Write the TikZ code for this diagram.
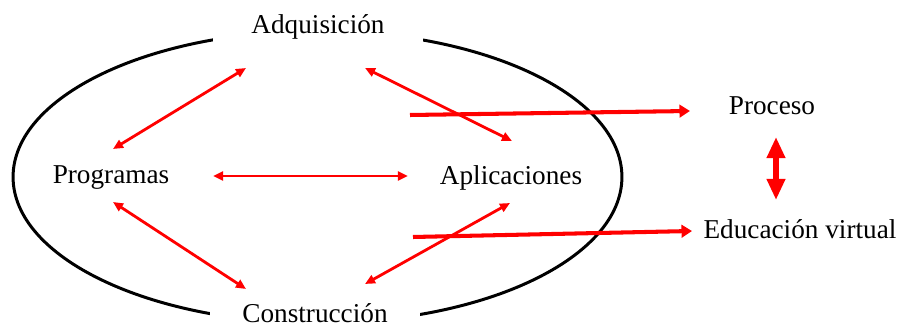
\documentclass[tikz,border=0pt]{standalone}
\usepackage{fontspec}
\setmainfont{Liberation Serif}
\usetikzlibrary{
  arrows.meta,
  calc,
}
\definecolor{cR}{HTML}{FF0000}

\tikzset{
  lbl/.style={font=\fontsize{15.5}{18}\selectfont, inner sep=0pt},
  gapbox/.style={lbl, fill=white, minimum width=4.2cm, minimum height=0.7cm},
  link/.style={cR, line width=1.6pt, {Triangle[length=5.7pt,width=5pt]}-{Triangle[length=5.7pt,width=5pt]}},
  feed/.style={cR, line width=2.3pt, -{Triangle[length=6pt,width=7.2pt]}},
  swap/.style={cR, line width=3.4pt, {Triangle[length=12pt,width=10pt]}-{Triangle[length=12pt,width=10pt]}},
}

\begin{document}
\begin{tikzpicture}[x=0.02cm,y=-0.02cm]
  \useasboundingbox (0,0) rectangle (897,327);

  \draw[line width=1.7pt] (317.5,177) ellipse (6.09cm and 2.92cm);

  \node[gapbox] (adq) at (318,27) {Adquisición};
  \node[gapbox] (cons) at (315,313) {Construcción};
  \node[lbl] (prog) at (111,178) {Programas};
  \node[lbl] (apl) at (511,178) {Aplicaciones};
  \node[lbl] (proc) at (772,106) {Proceso};
  \node[lbl] (edu) at (800,229) {Educación virtual};

  \coordinate (s1) at (410,115);
  \coordinate (s2) at (413,237);

  \foreach \a/\ax/\ay/\b/\bx/\by in {adq/-72/41/prog/2/-29,
      adq/47/41/apl/1/-37,
      prog/102/-2/apl/-103/-2,
      prog/2/24/cons/-69/-24,
      apl/-1/25/cons/50/-29}{
      \draw[link] ($(\a)+(\ax,\ay)$) -- ($(\b)+(\bx,\by)$);
    }

  \draw[feed] (s1) -- ($(proc)+(-82,5)$);
  \draw[feed] (s2) -- ($(edu)+(-108,2)$);
  \draw[swap] ($(proc)+(4,31)$) -- ($(edu)+(-24,-29)$);
\end{tikzpicture}
\end{document}
